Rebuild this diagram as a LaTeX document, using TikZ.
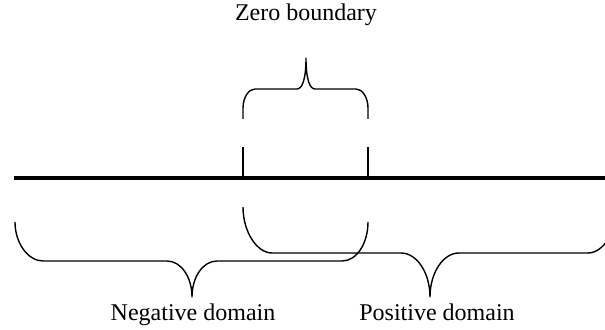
\documentclass[tikz,border=0pt]{standalone}
\usepackage{fontspec}
\setmainfont{Liberation Serif}
\usetikzlibrary{positioning,calc}

\begin{document}
\begin{tikzpicture}[x=0.5pt,y=-0.5pt,font=\fontsize{12}{14}\selectfont,
  lbl/.style={anchor=base,inner sep=0pt},
  brace/.style={line width=0.7pt,line join=round}]
\useasboundingbox (0,0) rectangle (605,330);
\clip (0,0) rectangle (605,330);
% axis and the two boundary ticks
\coordinate (axisL) at (14,178);\coordinate (axisR) at (606,178);
\coordinate (zl) at (243,178);\coordinate (zr) at (368,178);
\draw[line width=1.6pt] (axisL)--(axisR);
\draw[line width=0.7pt] (zl)--++(0,-31);\draw[line width=0.7pt] (zr)--++(0,-31);
% upper brace over the zero region
\draw[brace] (243,119)--(243,108) .. controls (243,97) and (249,89) .. (255,89)--(297,89)
  .. controls (302,89) and (306,80) .. (306,58) .. controls (306,80) and (310,89) .. (315,89)
  --(356,89) .. controls (362,89) and (368,97) .. (368,108)--(368,119);
% lower braces
\draw[brace] (15,222) .. controls (15,243) and (28,261) .. (43,261)--(167,261)
  .. controls (181,261) and (192,277) .. (192,297) .. controls (192,277) and (203,261) .. (217,261)
  --(342,261) .. controls (357,261) and (368,243) .. (368,222);
\draw[brace] (243,207) .. controls (243,232) and (257,253) .. (272,253)--(401,253)
  .. controls (417,253) and (430,273) .. (430,297) .. controls (430,273) and (443,253) .. (459,253)
  --(588,253) .. controls (603,253) and (617,232) .. (617,207);
\node[lbl] (zero) at (306,21) {Zero boundary};
\node[lbl] (neg) at (193,321) {Negative domain};
\node[lbl] (pos) at (437,321) {Positive domain};
\end{tikzpicture}
\end{document}
